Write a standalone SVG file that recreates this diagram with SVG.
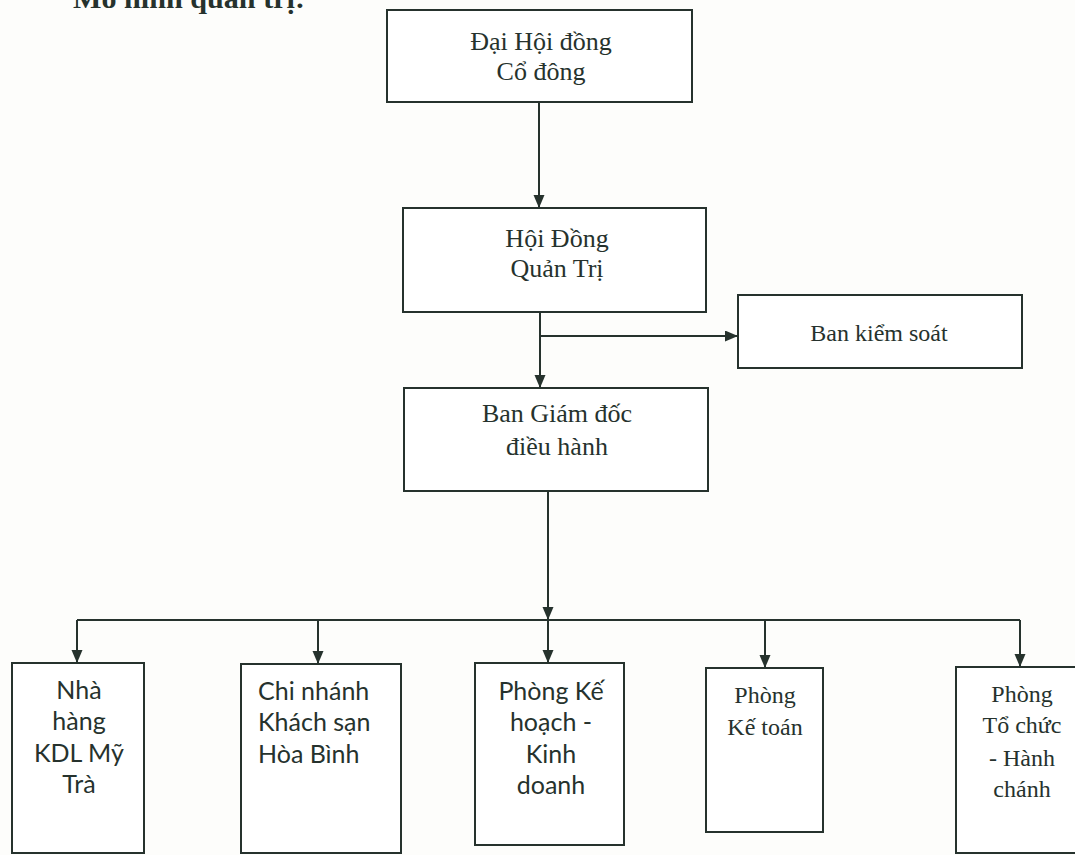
<svg xmlns="http://www.w3.org/2000/svg" width="1075" height="855" viewBox="0 0 1075 855">
<style>
.box{fill:#ffffff;stroke:#26322d;stroke-width:2}
.serif{font-family:"Liberation Serif","Times New Roman",serif;fill:#26322d}
.sans{font-family:Lato,"Liberation Sans",sans-serif;fill:#26322d}
.c{text-anchor:middle}
.conn path{fill:none;stroke:#26322d;stroke-width:2}
</style>
<defs>
<marker id="arr" markerUnits="userSpaceOnUse" markerWidth="14" markerHeight="12" refX="13" refY="5.5" orient="auto">
<path d="M0,0 L13,5.5 L0,11 z" fill="#26322d"/>
</marker>
</defs>
<rect x="0" y="0" width="1075" height="855" fill="#fdfdfb"/>
<text class="serif" x="73" y="8" font-size="28" font-weight="bold" textLength="232" lengthAdjust="spacingAndGlyphs">Mô hình quản trị:</text>

<g id="n-daihoi">
<rect class="box" x="387" y="10" width="305" height="92"/>
<text class="serif c" x="541" y="50" font-size="26">Đại Hội đồng</text>
<text class="serif c" x="541" y="80" font-size="26">Cổ đông</text>
</g>
<g id="n-hoidong">
<rect class="box" x="403" y="208" width="303" height="104"/>
<text class="serif c" x="557" y="247" font-size="26">Hội Đồng</text>
<text class="serif c" x="557" y="277" font-size="26">Quản Trị</text>
</g>
<g id="n-bankiemsoat">
<rect class="box" x="738" y="295" width="284" height="73"/>
<text class="serif c" x="879" y="341" font-size="24">Ban kiểm soát</text>
</g>
<g id="n-bangiamdoc">
<rect class="box" x="404" y="388" width="304" height="103"/>
<text class="serif c" x="557" y="422" font-size="26">Ban Giám đốc</text>
<text class="serif c" x="557" y="455" font-size="26">điều hành</text>
</g>
<g id="n-nhahang">
<rect class="box" x="12" y="663" width="132" height="190"/>
<text class="sans c" x="79" y="699" font-size="25">Nhà</text>
<text class="sans c" x="79" y="730" font-size="25">hàng</text>
<text class="sans c" x="79" y="762" font-size="25">KDL Mỹ</text>
<text class="sans c" x="79" y="793" font-size="25">Trà</text>
</g>
<g id="n-chinhanh">
<rect class="box" x="241" y="664" width="160" height="189"/>
<text class="sans" x="258" y="700" font-size="25">Chi nhánh</text>
<text class="sans" x="258" y="731" font-size="25">Khách sạn</text>
<text class="sans" x="258" y="763" font-size="25">Hòa Bình</text>
</g>
<g id="n-kehoach">
<rect class="box" x="475" y="663" width="149" height="182"/>
<text class="sans c" x="551" y="700" font-size="25">Phòng Kế</text>
<text class="sans c" x="551" y="731" font-size="25">hoạch -</text>
<text class="sans c" x="551" y="763" font-size="25">Kinh</text>
<text class="sans c" x="551" y="794" font-size="25">doanh</text>
</g>
<g id="n-ketoan">
<rect class="box" x="706" y="668" width="117" height="164"/>
<text class="serif c" x="765" y="703" font-size="24">Phòng</text>
<text class="serif c" x="765" y="735" font-size="24">Kế toán</text>
</g>
<g id="n-tochuc">
<rect class="box" x="956" y="667" width="130" height="186"/>
<text class="serif c" x="1022" y="702" font-size="24">Phòng</text>
<text class="serif c" x="1022" y="733" font-size="24">Tổ chức</text>
<text class="serif c" x="1022" y="766" font-size="24">- Hành</text>
<text class="serif c" x="1022" y="797" font-size="24">chánh</text>
</g>

<g id="connectors" class="conn">
<path d="M539,102 V208" marker-end="url(#arr)"/>
<path d="M540,312 V388" marker-end="url(#arr)"/>
<path d="M540,336 H738" marker-end="url(#arr)"/>
<path d="M548,491 V620" marker-end="url(#arr)"/>
<path d="M77,620 H1020"/>
<path d="M77,620 V663" marker-end="url(#arr)"/>
<path d="M318,620 V664" marker-end="url(#arr)"/>
<path d="M548,620 V663" marker-end="url(#arr)"/>
<path d="M765,620 V668" marker-end="url(#arr)"/>
<path d="M1020,620 V667" marker-end="url(#arr)"/>
</g>
</svg>
